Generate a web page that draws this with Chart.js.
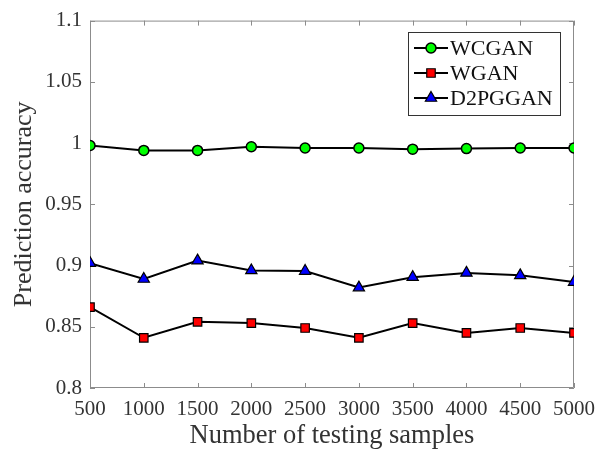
<!DOCTYPE html>
<html>
<head>
<meta charset="utf-8">
<script src="https://cdn.jsdelivr.net/npm/chart.js@4/dist/chart.umd.min.js"></script>
<style>
  html, body { margin: 0; padding: 0; background: #fff; }
  #wrap { width: 606px; height: 453px; }
</style>
</head>
<body>
<div id="wrap"><canvas id="chart"></canvas></div>
<script>
const samples = [500, 1000, 1500, 2000, 2500, 3000, 3500, 4000, 4500, 5000];
const wcgan   = [0.998, 0.994, 0.994, 0.997, 0.996, 0.996, 0.995, 0.9955, 0.996, 0.996];
const wgan    = [0.866, 0.841, 0.854, 0.853, 0.849, 0.841, 0.853, 0.845, 0.849, 0.845];
const d2pggan = [0.902, 0.889, 0.904, 0.896, 0.8955, 0.882, 0.8905, 0.894, 0.892, 0.8865];
const xTicks = [500, 1000, 1500, 2000, 2500, 3000, 3500, 4000, 4500, 5000];
const yTicks = [0.8, 0.85, 0.9, 0.95, 1, 1.05, 1.1];

const serif = '"Liberation Serif", "Times New Roman", serif';
const axisGray = '#8c8c8c';
const textGray = '#333333';

function toPoints(vals) {
    return samples.map((x, i) => ({ x: x, y: vals[i] }));
}

// рамка осей с внутренними засечками, как в MATLAB
const framePlugin = {
    id: 'frame',
    beforeDatasetsDraw(chart) {
        const { ctx, chartArea: a, scales } = chart;
        const tl = 5;
        ctx.save();
        ctx.strokeStyle = axisGray;
        ctx.lineWidth = 1;
        ctx.beginPath();
        ctx.rect(a.left + 0.5, a.top + 0.5, a.right - a.left - 1, a.bottom - a.top - 1);
        xTicks.forEach(v => {
            const px = Math.round(scales.x.getPixelForValue(v)) + 0.5;
            ctx.moveTo(px, a.bottom); ctx.lineTo(px, a.bottom - tl);
            ctx.moveTo(px, a.top); ctx.lineTo(px, a.top + tl);
        });
        yTicks.forEach(v => {
            const py = Math.round(scales.y.getPixelForValue(v)) + 0.5;
            ctx.moveTo(a.left, py); ctx.lineTo(a.left + tl, py);
            ctx.moveTo(a.right, py); ctx.lineTo(a.right - tl, py);
        });
        ctx.stroke();
        ctx.restore();
    }
};

// легенда внутри области графика
const boxLegend = {
    id: 'boxLegend',
    afterDraw(chart) {
        const { ctx } = chart;
        const bx = 408, by = 32, bw = 152, bh = 83;
        ctx.save();
        ctx.fillStyle = '#fff';
        ctx.fillRect(bx, by, bw, bh);
        ctx.strokeStyle = '#333';
        ctx.lineWidth = 1;
        ctx.strokeRect(bx + 0.5, by + 0.5, bw, bh);
        ctx.font = '22px ' + serif;
        ctx.textBaseline = 'middle';
        chart.data.datasets.forEach((ds, i) => {
            const y = by + 16 + i * 25;
            ctx.strokeStyle = '#000';
            ctx.lineWidth = 2;
            ctx.beginPath();
            ctx.moveTo(bx + 6, y);
            ctx.lineTo(bx + 40, y);
            ctx.stroke();
            ctx.fillStyle = ds.pointBackgroundColor;
            ctx.strokeStyle = '#000';
            ctx.lineWidth = ds.pointBorderWidth;
            Chart.helpers.drawPoint(ctx, {
                pointStyle: ds.pointStyle,
                radius: ds.pointRadius,
                borderWidth: ds.pointBorderWidth,
                rotation: 0
            }, bx + 23, y);
            ctx.fillStyle = '#111';
            ctx.fillText(ds.label, bx + 42, y + 1);
        });
        ctx.restore();
    }
};

const ctx = document.getElementById('chart').getContext('2d');
const chart = new Chart(ctx, {
    type: 'line',
    data: {
        datasets: [
            {
                label: 'WCGAN',
                data: toPoints(wcgan),
                borderColor: '#000',
                borderWidth: 2,
                pointStyle: 'circle',
                pointRadius: 5,
                pointBackgroundColor: '#00ff00',
                pointBorderColor: '#000',
                pointBorderWidth: 1.5
            },
            {
                label: 'WGAN',
                data: toPoints(wgan),
                borderColor: '#000',
                borderWidth: 2,
                pointStyle: 'rect',
                pointRadius: 6,
                pointBackgroundColor: '#ff0000',
                pointBorderColor: '#000',
                pointBorderWidth: 1.2
            },
            {
                label: 'D2PGGAN',
                data: toPoints(d2pggan),
                borderColor: '#000',
                borderWidth: 2,
                pointStyle: 'triangle',
                pointRadius: 6.5,
                pointBackgroundColor: '#0000ff',
                pointBorderColor: '#000',
                pointBorderWidth: 1.2
            }
        ]
    },
    options: {
        responsive: true,
        maintainAspectRatio: false,
        animation: false,
        layout: { padding: { top: 17, right: 32, left: 0, bottom: 0 } },
        plugins: {
            legend: { display: false },
            tooltip: { enabled: false }
        },
        scales: {
            x: {
                type: 'linear',
                min: 500,
                max: 5000,
                afterBuildTicks: s => { s.ticks = xTicks.map(v => ({ value: v })); },
                afterFit: s => { s.height = 65; },
                grid: { display: false, drawTicks: false },
                border: { display: false },
                ticks: {
                    padding: 9,
                    color: textGray,
                    font: { family: serif, size: 21 },
                    maxRotation: 0,
                    callback: v => String(v)
                },
                title: {
                    display: true,
                    text: 'Number of testing samples',
                    color: textGray,
                    font: { family: serif, size: 26.5 },
                    padding: { top: 0, bottom: 1 }
                }
            },
            y: {
                type: 'linear',
                min: 0.8,
                max: 1.1,
                afterBuildTicks: s => { s.ticks = yTicks.map(v => ({ value: v })); },
                afterFit: s => { s.width = 90; },
                grid: { display: false, drawTicks: false },
                border: { display: false },
                ticks: {
                    padding: 8,
                    color: textGray,
                    font: { family: serif, size: 21 },
                    callback: v => String(+v.toFixed(2))
                },
                title: {
                    display: true,
                    text: 'Prediction accuracy',
                    color: textGray,
                    font: { family: serif, size: 26 },
                    padding: { top: 9, bottom: 0 }
                }
            }
        }
    },
    plugins: [framePlugin, boxLegend]
});
</script>
</body>
</html>
